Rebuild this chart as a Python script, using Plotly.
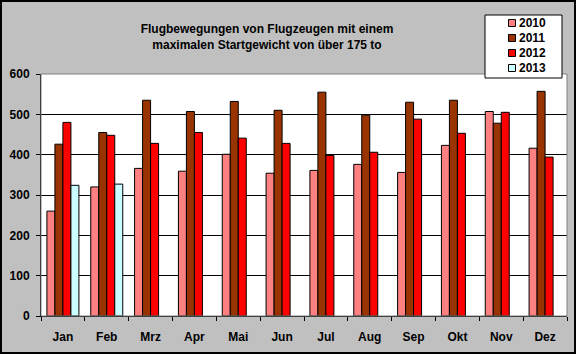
import plotly.graph_objects as go

months = ["Jan", "Feb", "Mrz", "Apr", "Mai", "Jun", "Jul", "Aug", "Sep", "Okt", "Nov", "Dez"]
v2010 = [260, 320, 366, 359, 401, 354, 361, 376, 356, 423, 507, 416]
v2011 = [426, 455, 535, 507, 532, 510, 555, 498, 530, 535, 478, 557]
v2012 = [480, 448, 428, 455, 441, 428, 398, 406, 488, 453, 505, 394]
v2013 = [324, 327, None, None, None, None, None, None, None, None, None, None]

series = [("2010", v2010, "#FF8080"), ("2011", v2011, "#993300"),
          ("2012", v2012, "#FF0000"), ("2013", v2013, "#CCFFFF")]

W, H = 576, 354
L, R, T, B = 41, 9, 74, 38
pw, ph = W - L - R, H - T - B

def px(x):
    return (x - L) / pw

def py(y):
    return (H - B - y) / ph

font = "Arial, 'Liberation Sans', sans-serif"

fig = go.Figure()
for name, vals, col in series:
    fig.add_trace(go.Bar(x=months, y=vals, name=name, showlegend=False,
                         marker=dict(color=col, line=dict(color="black", width=1))))

shapes = [
    dict(type="rect", xref="paper", yref="paper", x0=1, x1=0, y0=1, y1=0,
         line=dict(color="#808080", width=1), layer="above"),
    dict(type="rect", xref="paper", yref="paper", x0=px(1), x1=px(575), y0=py(1), y1=py(353),
         line=dict(color="black", width=2), layer="above"),
    # legend box
    dict(type="rect", xref="paper", yref="paper", x0=px(485), x1=px(562), y0=py(15), y1=py(78),
         line=dict(color="black", width=1), fillcolor="white", layer="above"),
]
annotations = []
for i, (name, vals, col) in enumerate(series):
    cy = 23 + 15 * i
    shapes.append(dict(type="rect", xref="paper", yref="paper", x0=px(508.5), x1=px(515.5),
                       y0=py(cy - 3.5), y1=py(cy + 3.5), fillcolor=col,
                       line=dict(color="black", width=1), layer="above"))
    annotations.append(dict(text="<b>" + name + "</b>", xref="paper", yref="paper", x=px(517), y=py(cy),
                            xanchor="left", yanchor="middle", showarrow=False,
                            font=dict(family=font, size=12, color="black")))

fig.update_layout(
    width=W, height=H,
    margin=dict(l=L, r=R, t=T, b=B),
    paper_bgcolor="#C0C0C0", plot_bgcolor="white",
    barmode="group", bargap=0.27, bargroupgap=0,
    showlegend=False,
    title=dict(text="<b>Flugbewegungen von Flugzeugen mit einem<br>maximalen Startgewicht von über 175 to</b>",
               x=px(267), xref="paper", xanchor="center", y=1 - 33 / H, yanchor="middle",
               font=dict(family=font, size=12, color="black")),
    font=dict(family=font, size=12, color="black"),
    xaxis=dict(showline=True, linecolor="black", linewidth=1, ticks="outside", tickson="boundaries",
               ticklen=4, tickcolor="black", tickfont=dict(family=font, size=12, color="black"),
               showgrid=False, ticklabelstandoff=10),
    yaxis=dict(range=[0, 600], dtick=100, showline=True, linecolor="black", linewidth=1,
               ticks="outside", ticklen=4, tickcolor="black", gridcolor="black", gridwidth=1,
               tickfont=dict(family=font, size=12, color="black"), zeroline=False,
               ticklabelstandoff=4),
    shapes=shapes,
    annotations=annotations,
)
fig.update_xaxes(tickprefix="<b>", ticksuffix="</b>")
fig.update_yaxes(tickprefix="<b>", ticksuffix="</b>")
fig.write_html("out.html")
